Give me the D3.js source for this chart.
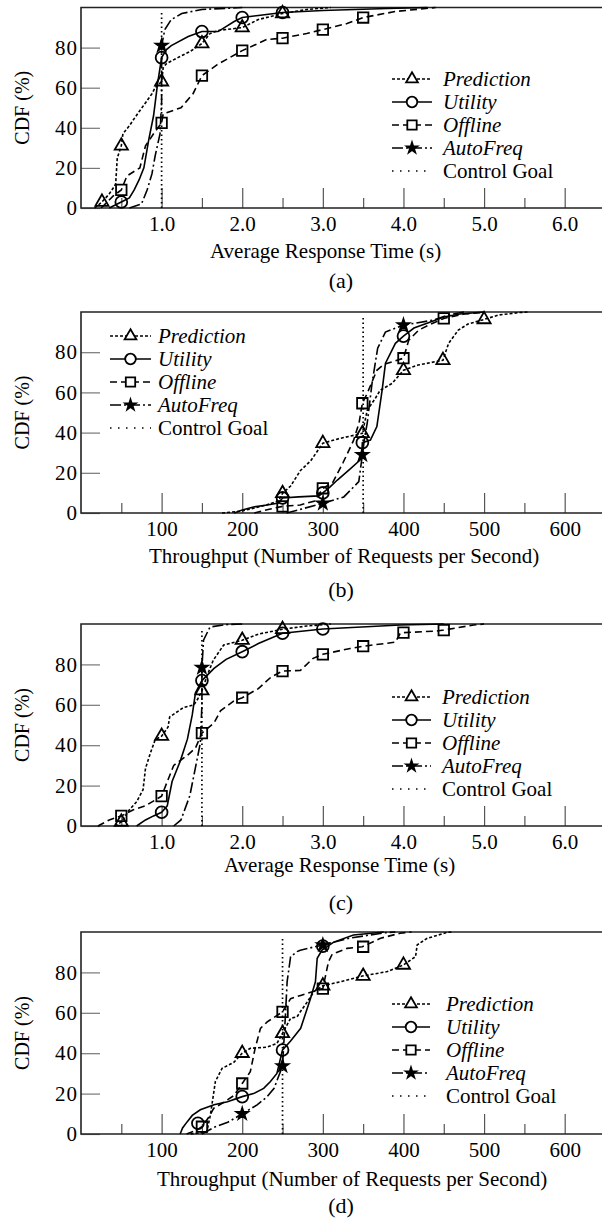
<!DOCTYPE html>
<html>
<head>
<meta charset="utf-8">
<script src="https://cdn.jsdelivr.net/npm/d3@7"></script>
<style>
  body { margin: 0; background: #fff; }
  svg { display: block; }
</style>
</head>
<body>
<svg id="chart" width="602" height="1220"></svg>
<script>
// ---------------- data ----------------
const seriesNames = ["Prediction", "Utility", "Offline", "AutoFreq", "Control Goal"];
const yTicks = [0, 20, 40, 60, 80];

// (a) average response time, goal 1.0 s
const rtMajorA = [1, 2, 3, 4, 5, 6];
const rtMinorA = [0.5, 1.5, 2.5, 3.5, 4.5, 5.5];
const goalA = 1.0;
const predA = [[0.17,0],[0.26,3],[0.35,7],[0.4,10],[0.43,12],[0.45,25],[0.5,31],[0.52,37],[0.6,41],[0.65,44],[0.72,48],[0.81,53],[0.88,57],[0.92,60],[1.0,63],[1.02,70],[1.06,72],[1.2,75],[1.35,78],[1.5,82],[1.6,87],[1.7,88.5],[2.0,90],[2.2,94],[2.5,97],[2.8,99],[3.1,100]];
const predAMarks = [[0.26,3],[0.5,31],[1.0,63],[1.5,82],[2.0,90],[2.5,97]];
const utilA = [[0.35,0],[0.5,3],[0.6,5],[0.66,9],[0.72,14],[0.78,20],[0.84,34],[0.9,46],[0.95,62],[1.0,75],[1.06,79],[1.12,81],[1.33,85.5],[1.5,88],[1.7,88],[1.9,93],[2.0,95],[2.2,96],[2.5,97.5],[3.0,98.5],[3.8,99.5],[4.3,100]];
const utilAMarks = [[0.5,3],[1.0,75],[1.5,88],[2.0,95],[2.5,97.5]];
const offA = [[0.25,0],[0.4,6],[0.5,9],[0.57,16],[0.73,20],[0.8,31],[0.9,37],[1.0,42.5],[1.02,47],[1.24,50],[1.39,57],[1.5,66],[1.69,71.5],[2.0,78.5],[2.14,81],[2.3,84],[2.5,84.7],[2.8,87],[3.0,89],[3.3,92],[3.5,95],[3.9,98],[4.4,100]];
const offAMarks = [[0.5,9],[1.0,42.5],[1.5,66],[2.0,78.5],[2.5,84.7],[3.0,89],[3.5,95]];
const autoA = [[0.6,0],[0.75,2],[0.82,9],[0.88,17],[0.92,26],[0.98,37],[1.0,53],[1.0,81],[1.04,89],[1.12,94],[1.25,97],[1.5,99],[2.0,100]];
const autoAMarks = [[1.0,81]];

// (b) throughput, goal 350 req/s
const tpMajorB = [100, 200, 300, 400, 500, 600];
const tpMinorB = [50, 150, 250, 350, 450, 550];
const goalB = 350;
const predB = [[175,0],[200,1],[230,4],[245,6],[250,9.8],[260,13.4],[272,21],[285,26],[300,34.7],[320,37],[349,39.6],[355,51],[365,57],[371,61],[386,64.5],[400,71],[418,73.6],[449,76],[456,84.4],[468,91],[480,94],[500,96.3],[518,98.5],[543,99.7],[555,100]];
const predBMarks = [[250,9.8],[300,34.7],[349,39.6],[400,71],[449,76],[500,96.3]];
const utilB = [[190,0],[200,1.5],[214,3],[231,4],[245,5],[250,7.5],[270,8],[295,8.5],[300,10],[309,13],[318,16.4],[334,22],[348,27],[349,35],[359,36.3],[367,43],[373.5,61],[377.7,74.5],[390,84.4],[400,88],[413,92],[433.5,95],[450,97.5],[470,99],[500,100]];
const utilBMarks = [[250,7.5],[300,10],[349,35],[400,88]];
const offB = [[215,0],[235,2],[250,3.3],[272,4],[290,6],[300,12.3],[312,15],[325,25],[338,36],[345,45],[349,54.6],[355,59.5],[367,71],[376,74],[400,77],[406.6,86],[419,91],[431.5,93.5],[450,96.8],[475,99],[500,99.8]];
const offBMarks = [[250,3.3],[300,12.3],[349,54.6],[400,77],[450,96.8]];
const autoB = [[255,0],[272,1.8],[300,4.8],[326,8],[344.6,15.6],[349,28.9],[352,38],[355,44.6],[361,64.5],[368,82],[377.6,90],[400,93.5],[437.6,96],[456,98.6],[475,100]];
const autoBMarks = [[300,4.8],[349,28.9],[400,93.5]];

// (c) average response time, goal 1.5 s
const rtMajorC = [1, 2, 3, 4, 5, 6];
const rtMinorC = [0.5, 1.5, 2.5, 3.5, 4.5, 5.5];
const goalC = 1.5;
const predC = [[0.42,0],[0.5,2],[0.6,8],[0.69,12],[0.77,18],[0.8,28.5],[0.86,36],[0.92,42.7],[1.0,44.5],[1.08,49],[1.1,54],[1.27,58.6],[1.4,60],[1.45,63],[1.5,67],[1.57,75],[1.64,82],[1.77,89.6],[2.0,92],[2.2,95],[2.5,97.4],[2.8,99],[3.1,100]];
const predCMarks = [[0.5,2],[1.0,44.5],[1.5,67],[2.0,92],[2.5,97.4]];
const utilC = [[0.69,0],[0.8,3],[0.9,5],[1.0,6.8],[1.07,10],[1.13,22],[1.23,32],[1.32,43],[1.38,55],[1.42,66],[1.5,72],[1.65,78],[1.8,82.5],[2.0,86.3],[2.2,90.3],[2.5,95.4],[3.0,97.5],[3.96,99.5],[4.5,100]];
const utilCMarks = [[1.0,6.8],[1.5,72],[2.0,86.3],[2.5,95.4],[3.0,97.5]];
const offC = [[0.21,0],[0.35,3],[0.5,5],[0.65,8],[0.8,10],[1.0,14.8],[1.07,22],[1.15,30],[1.32,35],[1.42,38.6],[1.5,46],[1.65,51],[1.73,57],[1.9,62],[2.0,63.5],[2.2,68],[2.36,73.8],[2.5,76.7],[2.72,77],[2.88,83],[3.0,85],[3.34,87.9],[3.5,89],[3.9,91],[3.96,95.4],[4.0,95.7],[4.4,96.5],[4.5,97],[4.87,99.5],[5.0,100]];
const offCMarks = [[0.5,5],[1.0,14.8],[1.5,46],[2.0,63.5],[2.5,76.7],[3.0,85],[3.5,89],[4.0,95.7],[4.5,97]];
const autoC = [[1.15,0],[1.24,3],[1.35,15],[1.39,23],[1.44,33],[1.48,41],[1.5,60],[1.5,78.4],[1.52,92],[1.6,98.5],[1.8,99.7],[2.0,100]];
const autoCMarks = [[1.5,78.4]];

// (d) throughput, goal 250 req/s
const tpMajorD = [100, 200, 300, 400, 500, 600];
const tpMinorD = [50, 150, 250, 350, 450, 550];
const goalD = 250;
const predD = [[136,0],[156,1],[160.5,9.4],[166.7,26],[175,32.5],[189.6,35.5],[200,40],[210,42.4],[231,43],[243,44.8],[250,49.8],[260,57.3],[268,58],[272,60.5],[280,65],[289,70.5],[300,73.4],[322,75.4],[349,78.2],[380,80.4],[400,83.7],[415,87.8],[417,93.6],[429,96.8],[454,99.8],[460,100]];
const predDMarks = [[200,40],[250,49.8],[300,73.4],[350,78.2],[400,83.7]];
const utilD = [[123,0],[126,3],[131.6,6],[138,9.2],[148,12],[165,14.5],[181.7,16],[200,18.5],[214,20],[226.6,22.6],[235,26],[243,30],[250,41.6],[260,46],[272.5,52.3],[284.6,67],[290.8,75.4],[293,87],[299,91],[313.5,95],[338,98.5],[375.6,100]];
const utilDMarks = [[145,5.3],[200,18.5],[250,41.6],[300,93]];
const offD = [[131,0],[144,2],[150,3.6],[158,8],[164.6,12.7],[177,15.7],[189.6,19],[200,25],[210,30.8],[216,42.4],[222.6,52.3],[231,55.5],[250,60.5],[260,67],[272.5,68.6],[300,72],[307,85.3],[311.6,89],[330,91.9],[349,92.7],[371.5,96.9],[396,99.4],[410,100]];
const offDMarks = [[150,3.6],[200,25],[250,60.5],[300,72],[350,92.7]];
const autoD = [[150,0],[165,3.3],[182,5.8],[200,10],[218.5,14.4],[231,18.5],[239.5,22.6],[250,33.7],[253.6,59],[255.7,75.4],[260,87.8],[268,90.3],[272,91],[300,93.6],[334,97],[376,99.6],[390,100]];
const autoDMarks = [[200,10],[250,33.7],[300,93.6]];

// ---------------- styling / layout ----------------
const FONT = '"Liberation Serif","Times New Roman",Times,serif';
const styles = [
  { dash: "3,2",       symbol: d3.symbolTriangle, size: 75,  fill: "none" },
  { dash: null,        symbol: d3.symbolCircle,   size: 110, fill: "none" },
  { dash: "7,4",       symbol: d3.symbolSquare,   size: 110, fill: "none" },
  { dash: "11,3,2,3",  symbol: d3.symbolStar,     size: 42,  fill: "#000" },
  { dash: "1.5,3" }
];

const panels = [
  { top: 7.5, bottom: 208, domain: [0, 6.5], major: rtMajorA, minor: rtMinorA, fmt: d3.format(".1f"),
    title: "Average Response Time (s)", titleX: 210, titleY: 258, caption: "(a)", capY: 288,
    goal: goalA, series: [[predA, predAMarks], [utilA, utilAMarks], [offA, offAMarks], [autoA, autoAMarks]],
    legend: { x0: 392, x1: 432, tx: 443, y0: 79 } },
  { top: 312, bottom: 513, domain: [0, 650], major: tpMajorB, minor: tpMinorB, fmt: d3.format("d"),
    title: "Throughput (Number of Requests per Second)", titleX: 149, titleY: 563, caption: "(b)", capY: 597,
    goal: goalB, series: [[predB, predBMarks], [utilB, utilBMarks], [offB, offBMarks], [autoB, autoBMarks]],
    legend: { x0: 110, x1: 151, tx: 158, y0: 336 } },
  { top: 624, bottom: 826, domain: [0, 6.5], major: rtMajorC, minor: rtMinorC, fmt: d3.format(".1f"),
    title: "Average Response Time (s)", titleX: 224, titleY: 872, caption: "(c)", capY: 910,
    goal: goalC, series: [[predC, predCMarks], [utilC, utilCMarks], [offC, offCMarks], [autoC, autoCMarks]],
    legend: { x0: 392, x1: 431, tx: 442, y0: 697 } },
  { top: 932, bottom: 1134, domain: [0, 650], major: tpMajorD, minor: tpMinorD, fmt: d3.format("d"),
    title: "Throughput (Number of Requests per Second)", titleX: 157, titleY: 1186, caption: "(d)", capY: 1213,
    goal: goalD, series: [[predD, predDMarks], [utilD, utilDMarks], [offD, offDMarks], [autoD, autoDMarks]],
    legend: { x0: 392, x1: 430, tx: 446, y0: 1004 } }
];

const LEFT = 81, RIGHT = 605;
const svg = d3.select("#chart");
svg.append("rect").attr("width", 602).attr("height", 1220).attr("fill", "#fff");

panels.forEach(function(p) {
  const x = d3.scaleLinear().domain(p.domain).range([LEFT, RIGHT]);
  const y = d3.scaleLinear().domain([0, 100]).range([p.bottom, p.top]);
  const g = svg.append("g");

  // y ticks (short, pointing inward)
  const yAxis = g.append("g")
    .attr("transform", `translate(${LEFT},0)`)
    .call(d3.axisLeft(y).tickValues(yTicks).tickSize(-19).tickPadding(3));
  yAxis.select(".domain").remove();
  yAxis.selectAll("line").attr("stroke", "#777").attr("stroke-width", 1.2);
  yAxis.selectAll("text").attr("font-family", FONT).attr("font-size", 21)
    .attr("fill", "#000").attr("letter-spacing", 1);

  // x ticks: major with labels, minor without
  const xAxis = g.append("g")
    .attr("transform", `translate(0,${p.bottom})`)
    .call(d3.axisBottom(x).tickValues(p.major).tickSize(-20).tickPadding(8).tickFormat(p.fmt));
  xAxis.select(".domain").remove();
  xAxis.selectAll("line").attr("stroke", "#555").attr("stroke-width", 1.2);
  xAxis.selectAll("text").attr("font-family", FONT).attr("font-size", 21).attr("fill", "#000");

  const xMinor = g.append("g")
    .attr("transform", `translate(0,${p.bottom})`)
    .call(d3.axisBottom(x).tickValues(p.minor).tickSize(-10).tickFormat(""));
  xMinor.select(".domain").remove();
  xMinor.selectAll("line").attr("stroke", "#555").attr("stroke-width", 1.2);

  // frame: left, top, bottom
  g.append("path")
    .attr("d", `M${RIGHT},${p.top}H${LEFT}V${p.bottom}H${RIGHT}`)
    .attr("fill", "none").attr("stroke", "#222").attr("stroke-width", 1.6);

  // control goal
  g.append("line")
    .attr("x1", x(p.goal)).attr("x2", x(p.goal))
    .attr("y1", y(0)).attr("y2", y(98))
    .attr("stroke", "#000").attr("stroke-width", 1.7)
    .attr("stroke-dasharray", styles[4].dash);

  const line = d3.line().x(d => x(d[0])).y(d => y(d[1]));

  p.series.forEach(function(s, i) {
    const st = styles[i];
    g.append("path").datum(s[0])
      .attr("d", line)
      .attr("fill", "none").attr("stroke", "#000").attr("stroke-width", 1.6)
      .attr("stroke-dasharray", st.dash);
    g.selectAll(null).data(s[1]).join("path")
      .attr("transform", d => `translate(${x(d[0])},${y(d[1])})`)
      .attr("d", d3.symbol().type(st.symbol).size(st.size))
      .attr("fill", st.fill).attr("stroke", "#000").attr("stroke-width", 1.8);
  });

  // legend
  const L = p.legend;
  seriesNames.forEach(function(name, i) {
    const st = styles[i];
    const cy = L.y0 + i * 23;
    g.append("line")
      .attr("x1", L.x0).attr("x2", L.x1).attr("y1", cy).attr("y2", cy)
      .attr("stroke", "#000").attr("stroke-width", 1.6)
      .attr("stroke-dasharray", i === 4 ? "1.5,6.5" : st.dash);
    if (st.symbol) {
      g.append("path")
        .attr("transform", `translate(${(L.x0 + L.x1) / 2},${cy})`)
        .attr("d", d3.symbol().type(st.symbol).size(st.size * 0.8))
        .attr("fill", st.fill === "none" ? "#fff" : st.fill)
        .attr("stroke", "#000").attr("stroke-width", 1.8);
    }
    g.append("text")
      .attr("x", L.tx).attr("y", cy).attr("dy", "0.35em")
      .attr("font-family", FONT).attr("font-size", 21)
      .attr("font-style", i < 4 ? "italic" : "normal")
      .text(name);
  });

  // axis titles and caption
  g.append("text")
    .attr("transform", `translate(22,${(p.top + p.bottom) / 2}) rotate(-90)`)
    .attr("text-anchor", "middle").attr("dy", "0.35em")
    .attr("font-family", FONT).attr("font-size", 20)
    .text("CDF (%)");
  g.append("text")
    .attr("x", p.titleX).attr("y", p.titleY)
    .attr("font-family", FONT).attr("font-size", 21)
    .text(p.title);
  g.append("text")
    .attr("x", 341).attr("y", p.capY).attr("text-anchor", "middle")
    .attr("font-family", FONT).attr("font-size", 22)
    .text(p.caption);
});
</script>
</body>
</html>
